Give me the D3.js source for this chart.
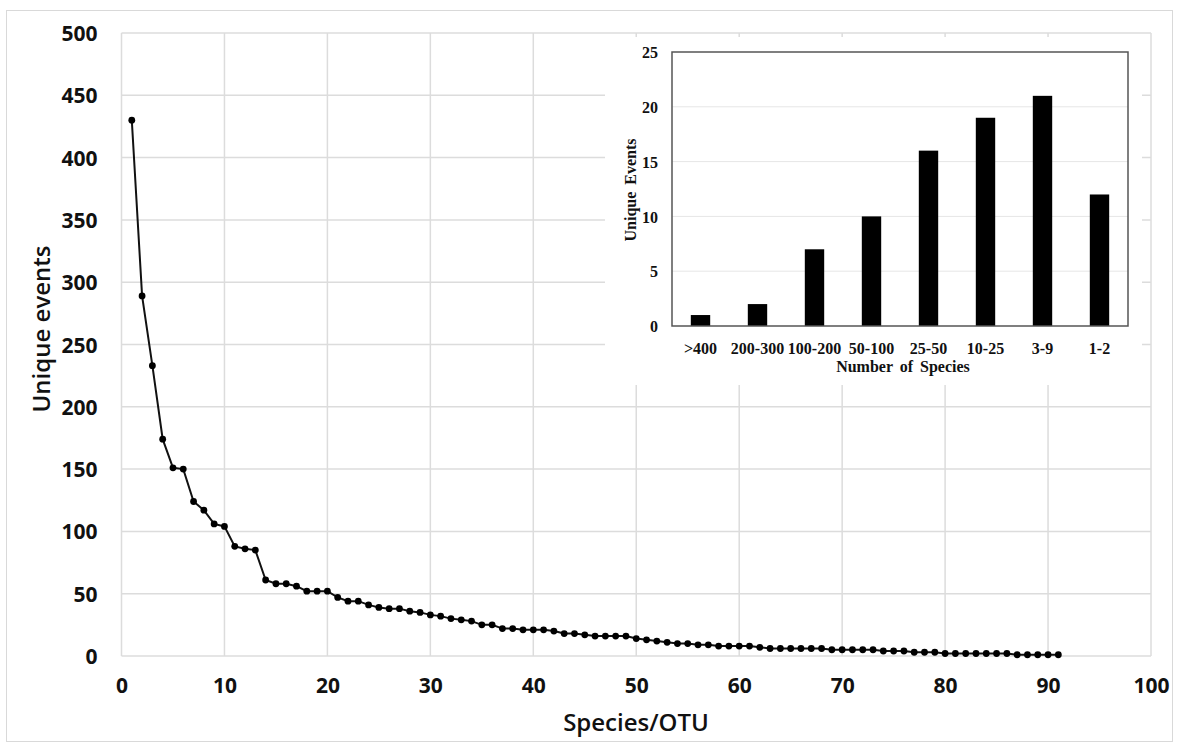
<!DOCTYPE html>
<html lang="en">
<head>
  <meta charset="UTF-8">
  <title>Unique events per Species/OTU</title>
  <script src="https://d3js.org/d3.v7.min.js"></script>
  <style>
    body { margin: 0; background: #fff; }
    .main-tick { font-family: "Open Sans", "Liberation Sans", sans-serif; font-weight: 700; font-size: 21px; fill: #111; }
    .main-title { font-family: "Open Sans", "Liberation Sans", sans-serif; font-weight: 600; font-size: 24px; fill: #111; }
    .inset-text { font-family: "Liberation Serif", "DejaVu Serif", serif; font-weight: 700; font-size: 16px; fill: #111; }
  </style>
</head>
<body>
  <div id="chart"></div>

  <script>
    // unique events per species/OTU, ranked
    const events = [430, 289, 233, 174, 151, 150, 124, 117, 106, 104,
      88, 86, 85, 61, 58, 58, 56, 52, 52, 52,
      47, 44, 44, 41, 39, 38, 38, 36, 35, 33,
      32, 30, 29, 28, 25, 25, 22, 22, 21, 21,
      21, 20, 18, 18, 17, 16, 16, 16, 16, 14,
      13, 12, 11, 10, 10, 9, 9, 8, 8, 8,
      8, 7, 6, 6, 6, 6, 6, 6, 5, 5,
      5, 5, 5, 4, 4, 4, 3, 3, 3, 2,
      2, 2, 2, 2, 2, 2, 1, 1, 1, 1, 1];
    const xTicks = [0, 10, 20, 30, 40, 50, 60, 70, 80, 90, 100];
    const yTicks = [0, 50, 100, 150, 200, 250, 300, 350, 400, 450, 500];

    // inset histogram
    const bins = [">400", "200-300", "100-200", "50-100", "25-50", "10-25", "3-9", "1-2"];
    const binCounts = [1, 2, 7, 10, 16, 19, 21, 12];
    const insetTicks = [0, 5, 10, 15, 20, 25];

    const W = 1177, H = 750;
    const svg = d3.select("#chart").append("svg")
      .attr("width", W)
      .attr("height", H);

    // outer frame
    svg.append("rect")
      .attr("x", 6.5).attr("y", 10.5)
      .attr("width", 1166).attr("height", 731)
      .attr("fill", "none")
      .attr("stroke", "#d9d9d9");

    // ---- main chart ----
    const mLeft = 121.5, mRight = 1151, mTop = 33, mBottom = 656;

    const x = d3.scaleLinear().domain([0, 100]).range([mLeft, mRight]);
    const y = d3.scaleLinear().domain([0, 500]).range([mBottom, mTop]);

    const grid = svg.append("g");
    grid.selectAll(".hgrid")
      .data(yTicks)
      .enter().append("line")
      .attr("x1", mLeft).attr("x2", mRight)
      .attr("y1", d => y(d)).attr("y2", d => y(d))
      .attr("stroke", "#dcdcdc")
      .attr("stroke-width", 1.5);
    grid.selectAll(".vgrid")
      .data(xTicks)
      .enter().append("line")
      .attr("x1", d => x(d)).attr("x2", d => x(d))
      .attr("y1", mTop).attr("y2", mBottom)
      .attr("stroke", "#dcdcdc")
      .attr("stroke-width", 1.5);

    svg.append("g")
      .attr("transform", `translate(${mLeft - 21},0)`)
      .call(d3.axisLeft(y).tickValues(yTicks).tickSize(0))
      .call(g => g.select(".domain").remove())
      .selectAll("text")
      .attr("class", "main-tick")
      .attr("dy", "0.36em");

    svg.append("g")
      .attr("transform", `translate(0,${mBottom + 19})`)
      .call(d3.axisBottom(x).tickValues(xTicks).tickSize(0))
      .call(g => g.select(".domain").remove())
      .selectAll("text")
      .attr("class", "main-tick")
      .attr("dy", "0.71em");

    svg.append("text")
      .attr("class", "main-title")
      .attr("x", 636)
      .attr("y", 731)
      .style("text-anchor", "middle")
      .text("Species/OTU");

    svg.append("text")
      .attr("class", "main-title")
      .attr("transform", "rotate(-90)")
      .attr("x", -329)
      .attr("y", 50)
      .style("text-anchor", "middle")
      .text("Unique events");

    const line = d3.line()
      .x((d, i) => x(i + 1))
      .y(d => y(d));

    svg.append("path")
      .datum(events)
      .attr("d", line)
      .attr("fill", "none")
      .attr("stroke", "#111")
      .attr("stroke-width", 2);

    svg.selectAll(".dot")
      .data(events)
      .enter().append("circle")
      .attr("class", "dot")
      .attr("cx", (d, i) => x(i + 1))
      .attr("cy", d => y(d))
      .attr("r", 3.4)
      .attr("fill", "#000");

    // ---- inset ----
    svg.append("rect")
      .attr("x", 605).attr("y", 37)
      .attr("width", 537).attr("height", 348)
      .attr("fill", "#fff");

    const iLeft = 672, iRight = 1128, iTop = 52, iBottom = 326;
    const ix = d3.scaleBand()
      .domain(bins)
      .range([iLeft, iRight])
      .paddingInner(0.66)
      .paddingOuter(0.33);
    const iy = d3.scaleLinear().domain([0, 25]).range([iBottom, iTop]);

    svg.selectAll(".igrid")
      .data(insetTicks.slice(1, -1))
      .enter().append("line")
      .attr("x1", iLeft).attr("x2", iRight)
      .attr("y1", d => iy(d)).attr("y2", d => iy(d))
      .attr("stroke", "#e6e6e6")
      .attr("stroke-width", 1);

    svg.selectAll(".bar")
      .data(binCounts)
      .enter().append("rect")
      .attr("class", "bar")
      .attr("x", (d, i) => ix(bins[i]))
      .attr("y", d => iy(d))
      .attr("width", ix.bandwidth())
      .attr("height", d => iBottom - iy(d))
      .attr("fill", "#000");

    svg.append("rect")
      .attr("x", iLeft).attr("y", iTop)
      .attr("width", iRight - iLeft).attr("height", iBottom - iTop)
      .attr("fill", "none")
      .attr("stroke", "#555")
      .attr("stroke-width", 1.5);

    svg.append("g")
      .attr("transform", `translate(${iLeft - 11},0)`)
      .call(d3.axisLeft(iy).tickValues(insetTicks).tickSize(0))
      .call(g => g.select(".domain").remove())
      .selectAll("text")
      .attr("class", "inset-text")
      .attr("dy", "0.36em");

    svg.append("g")
      .attr("transform", `translate(0,${iBottom + 14})`)
      .call(d3.axisBottom(ix).tickSize(0))
      .call(g => g.select(".domain").remove())
      .selectAll("text")
      .attr("class", "inset-text")
      .attr("dy", "0.71em");

    svg.append("text")
      .attr("class", "inset-text")
      .attr("x", 903)
      .attr("y", 372)
      .style("text-anchor", "middle")
      .style("word-spacing", "3px")
      .text("Number of Species");

    svg.append("text")
      .attr("class", "inset-text")
      .attr("transform", "rotate(-90)")
      .attr("x", -190)
      .attr("y", 636)
      .style("text-anchor", "middle")
      .style("word-spacing", "3px")
      .text("Unique Events");
  </script>
</body>
</html>
